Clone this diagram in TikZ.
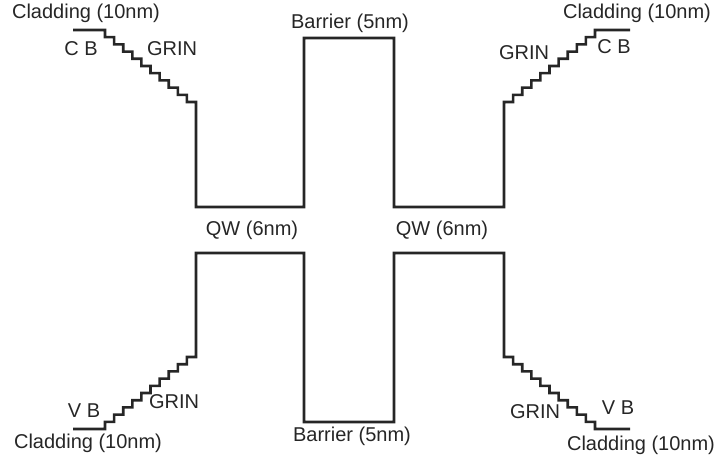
\documentclass[tikz,border=0pt]{standalone}
\usepackage{fontspec}
\setmainfont{Liberation Sans}
\begin{document}
\begin{tikzpicture}[x=1pt,y=-1pt,
  band/.style={line width=2.6pt,line join=miter,black!85},
  lbl/.style={font=\fontsize{20}{22}\selectfont,inner sep=0pt,text=black!85}]
\useasboundingbox (0,0) rectangle (720,460);
\def\dx{9.1}\def\dy{7.2}
% conduction band
\coordinate (tl0) at (73,30);
\coordinate (tl1) at (105,30);
\coordinate (tr1) at (504,102);
\draw[band] (tl0) -- (tl1)
  \foreach \i in {1,...,10} { -- ++(0,\dy) -- ++(\dx,0) }
  -- (196,207) -- (304,207) -- (304,38) -- (394,38) -- (394,207) -- (504,207) -- (tr1)
  \foreach \i in {1,...,10} { -- ++(\dx,0) -- ++(0,-\dy) }
  -- (630,30);
% valence band
\coordinate (bl0) at (73,429);
\coordinate (bl1) at (105,429);
\coordinate (br1) at (504,357);
\draw[band] (bl0) -- (bl1)
  \foreach \i in {1,...,10} { -- ++(0,-\dy) -- ++(\dx,0) }
  -- (196,253) -- (304,253) -- (304,422) -- (394,422) -- (394,253) -- (504,253) -- (br1)
  \foreach \i in {1,...,10} { -- ++(\dx,0) -- ++(0,\dy) }
  -- (630,429);
% labels
\node[lbl] (cladTL) at (86,13) {Cladding (10nm)};
\node[lbl] (cbL) at (81,49) {C B};
\node[lbl] (grinTL) at (172,49) {GRIN};
\node[lbl] (barT) at (350,23) {Barrier (5nm)};
\node[lbl] (grinTR) at (524,53) {GRIN};
\node[lbl] (cbR) at (614,47) {C B};
\node[lbl] (cladTR) at (637,13) {Cladding (10nm)};
\node[lbl] (qwL) at (252,230) {QW (6nm)};
\node[lbl] (qwR) at (442,230) {QW (6nm)};
\node[lbl] (vbL) at (84,411) {V B};
\node[lbl] (grinBL) at (174,402) {GRIN};
\node[lbl] (cladBL) at (88,443) {Cladding (10nm)};
\node[lbl] (barB) at (352,436) {Barrier (5nm)};
\node[lbl] (grinBR) at (535,412) {GRIN};
\node[lbl] (vbR) at (618,408) {V B};
\node[lbl] (cladBR) at (641,445) {Cladding (10nm)};
\end{tikzpicture}
\end{document}
